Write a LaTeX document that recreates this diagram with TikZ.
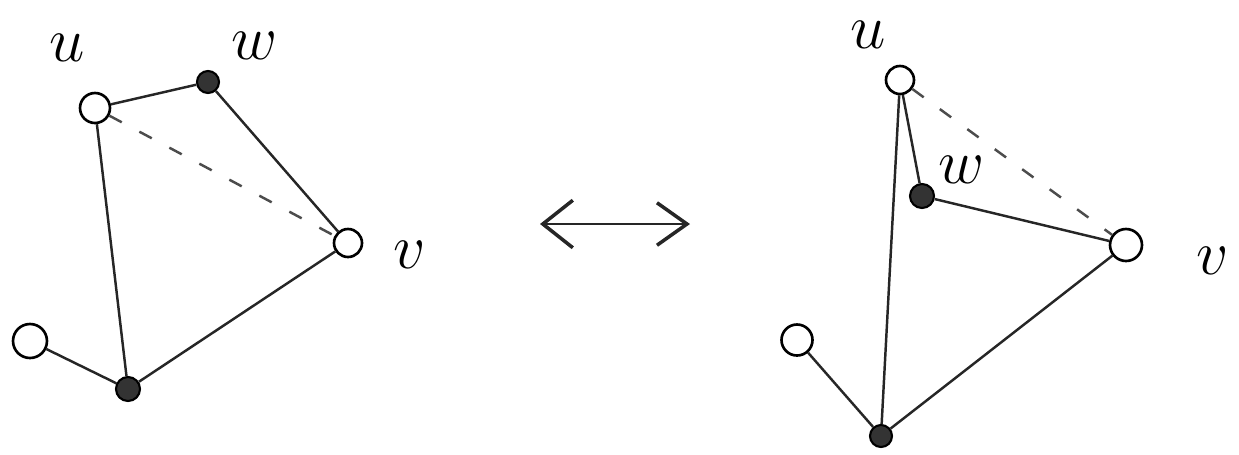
\documentclass[tikz,border=0pt]{standalone}
\usetikzlibrary{arrows.meta}
\begin{document}
\begin{tikzpicture}[x=0.02cm,y=-0.02cm,
  edge/.style={line width=1.4pt,black!85},
  dashedge/.style={line width=1.4pt,black!70,dash pattern=on 0.28cm off 0.4cm},
  wnode/.style={circle,draw,line width=1.5pt,fill=white,inner sep=0pt,minimum size=#1},
  bnode/.style={circle,draw,line width=1.2pt,fill=black!80,inner sep=0pt,minimum size=#1},
  lbl/.style={font=\Huge,inner sep=0pt,scale=1.45,transform shape}]
\useasboundingbox (0,0) rectangle (1239,454);
% left graph
\node[wnode=0.6cm] (lu) at (95,108) {};
\node[bnode=0.44cm] (lw) at (208,82) {};
\node[wnode=0.56cm] (lv) at (348,243) {};
\node[bnode=0.48cm] (lb) at (128,389) {};
\node[wnode=0.68cm] (ll) at (30,341) {};
\draw[edge] (lu) -- (lw);
\draw[edge] (lw) -- (lv);
\draw[dashedge] (lu) -- (lv);
\draw[edge] (lu) -- (lb);
\draw[edge] (lv) -- (lb);
\draw[edge] (ll) -- (lb);
\node[lbl] (lul) at (67,48) {$u$};
\node[lbl] (lwl) at (255,46) {$w$};
\node[lbl] (lvl) at (410,255) {$v$};
% arrow
\coordinate (al) at (540,224);
\coordinate (ar) at (690,224);
\draw[line width=1.4pt,black!85,{Straight Barb[length=0.6cm,width=0.95cm,line width=2pt]}-{Straight Barb[length=0.6cm,width=0.85cm,line width=2pt]}] (al) -- (ar);
% right graph
\node[wnode=0.56cm] (ru) at (900,80) {};
\node[bnode=0.48cm] (rw) at (922,196) {};
\node[wnode=0.64cm] (rv) at (1126,245) {};
\node[bnode=0.44cm] (rb) at (881,436) {};
\node[wnode=0.62cm] (rl) at (797,340) {};
\draw[edge] (ru) -- (rw);
\draw[edge] (rw) -- (rv);
\draw[dashedge] (ru) -- (rv);
\draw[edge] (ru) -- (rb);
\draw[edge] (rv) -- (rb);
\draw[edge] (rl) -- (rb);
\node[lbl] (rul) at (868,35) {$u$};
\node[lbl] (rwl) at (962,170) {$w$};
\node[lbl] (rvl) at (1213,261) {$v$};
\end{tikzpicture}
\end{document}
